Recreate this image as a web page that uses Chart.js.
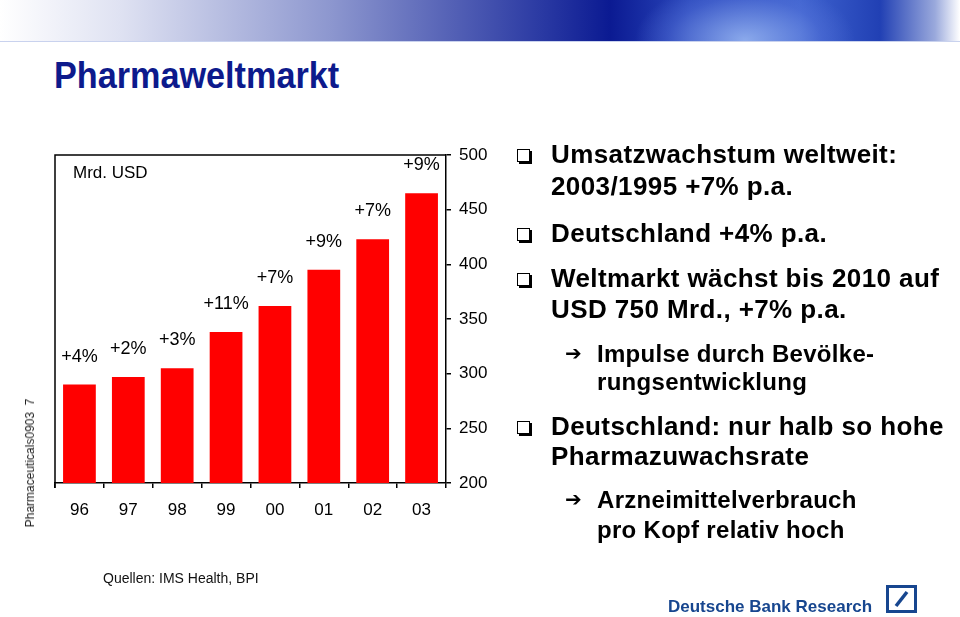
<!DOCTYPE html>
<html>
<head>
<meta charset="utf-8">
<script src="https://cdn.jsdelivr.net/npm/chart.js@4.4.1/dist/chart.umd.min.js"></script>
<style>
  html, body { margin: 0; padding: 0; background: #fff; }
  body { width: 960px; height: 617px; position: relative; overflow: hidden;
         font-family: "Liberation Sans", Arial, Helvetica, sans-serif; }
  #banner { position: absolute; left: 0; top: 0; width: 960px; height: 41px;
    background:
      radial-gradient(ellipse 110px 60px at 745px 40px, rgba(160,190,245,0.8), rgba(90,120,220,0.4) 70%, rgba(0,0,0,0) 100%),
      linear-gradient(to right, #ffffff 0px, #dfe2f2 120px, #8d97cf 330px, #2b3aa3 540px, #0b1a92 610px, #2a47bb 690px, #3f63cf 800px, #2140b4 880px, #9aa9dc 935px, #ffffff 960px);
    border-bottom: 1px solid #c9d2ee; }
  #title { position: absolute; left: 54px; top: 56px; font-size: 36px; font-weight: bold;
           color: #0d1a8c; transform: scaleX(0.95); transform-origin: left top; line-height: 40px; }
  #chart { position: absolute; left: 0; top: 0; }
  .t { position: absolute; font-weight: bold; color: #000; white-space: nowrap; }
  .big { font-size: 26px; line-height: 26px; left: 551px; letter-spacing: 0.4px; }
  .sub { font-size: 24px; line-height: 24px; left: 597px; letter-spacing: 0.3px; }
  .box { position: absolute; left: 517px; width: 11px; height: 11px; border: 1.5px solid #000;
         box-shadow: 2px 2px 0 #000; background: #fff; }
  .arr { position: absolute; left: 565px; font-family: "DejaVu Sans", sans-serif; font-size: 20px;
         font-weight: bold; line-height: 22px; }
  #side { position: absolute; left: 30px; top: 463px; font-size: 12px; line-height: 14px; white-space: nowrap;
          transform: translate(-50%, -50%) rotate(-90deg); color: #222; }
  #src { position: absolute; left: 103px; top: 571px; font-size: 14px; line-height: 14px; color: #111; }
  #db { position: absolute; left: 668px; top: 598px; font-size: 17px; line-height: 17px; font-weight: bold; color: #17468f; }
  #logo { position: absolute; left: 886px; top: 585px; }
</style>
</head>
<body>
<div id="banner"></div>
<div id="title">Pharmaweltmarkt</div>
<canvas id="chart" width="960" height="617"></canvas>

<div class="box" style="top:149px"></div>
<div class="t big" style="top:141px">Umsatzwachstum weltweit:</div>
<div class="t big" style="top:173px">2003/1995 +7% p.a.</div>
<div class="box" style="top:228px"></div>
<div class="t big" style="top:220px">Deutschland +4% p.a.</div>
<div class="box" style="top:273px"></div>
<div class="t big" style="top:265px">Weltmarkt wächst bis 2010 auf</div>
<div class="t big" style="top:296px">USD 750 Mrd., +7% p.a.</div>
<div class="arr" style="top:342px">➔</div>
<div class="t sub" style="top:342px">Impulse durch Bevölke-</div>
<div class="t sub" style="top:370px">rungsentwicklung</div>
<div class="box" style="top:421px"></div>
<div class="t big" style="top:413px">Deutschland: nur halb so hohe</div>
<div class="t big" style="top:443px">Pharmazuwachsrate</div>
<div class="arr" style="top:488px">➔</div>
<div class="t sub" style="top:488px">Arzneimittelverbrauch</div>
<div class="t sub" style="top:518px">pro Kopf relativ hoch</div>

<div id="side">Pharmaceuticals0903&nbsp; 7</div>
<div id="src">Quellen: IMS Health, BPI</div>
<div id="db">Deutsche Bank Research</div>
<svg id="logo" width="31" height="28" viewBox="0 0 31 28">
  <rect x="1.5" y="1.5" width="28" height="25" fill="none" stroke="#17468f" stroke-width="3"/>
  <line x1="10" y1="21" x2="21" y2="7" stroke="#17468f" stroke-width="3.5"/>
</svg>

<script>
// Weltmarkt Pharma, Mrd. USD
const jahre = ['96', '97', '98', '99', '00', '01', '02', '03'];
const umsatz = [290, 297, 305, 338, 362, 395, 423, 465];
const wachstum = ['+4%', '+2%', '+3%', '+11%', '+7%', '+9%', '+7%', '+9%'];
const yTicks = [200, 250, 300, 350, 400, 450, 500];

const fontName = '"Liberation Sans", Arial, Helvetica, sans-serif';

// Rahmen oben/links und Beschriftungen über den Balken
const extras = {
  id: 'extras',
  afterDatasetsDraw(chart) {
    const ctx = chart.ctx;
    const a = chart.chartArea;
    ctx.save();
    ctx.strokeStyle = '#000';
    ctx.lineWidth = 1.5;
    ctx.beginPath();
    ctx.moveTo(a.left, a.bottom + 5);
    ctx.lineTo(a.left, a.top);
    ctx.lineTo(a.right, a.top);
    ctx.stroke();

    ctx.font = '18px ' + fontName;
    ctx.fillStyle = '#000';
    ctx.textAlign = 'center';
    ctx.textBaseline = 'middle';
    chart.getDatasetMeta(0).data.forEach((bar, i) => {
      ctx.fillText(wachstum[i], bar.x, bar.y - 28);
    });

    ctx.font = '17px ' + fontName;
    ctx.textAlign = 'left';
    ctx.fillText('Mrd. USD', a.left + 18, a.top + 18);
    ctx.restore();
  }
};

new Chart(document.getElementById('chart').getContext('2d'), {
  type: 'bar',
  data: {
    labels: jahre,
    datasets: [{
      data: umsatz,
      backgroundColor: '#ff0000',
      borderWidth: 0,
      barPercentage: 0.67,
      categoryPercentage: 1.0
    }]
  },
  options: {
    responsive: false,
    animation: false,
    layout: { padding: { left: 55, top: 155, right: 464, bottom: 94 } },
    plugins: { legend: { display: false }, tooltip: { enabled: false } },
    scales: {
      x: {
        grid: { drawOnChartArea: false, drawTicks: true, tickLength: 5, color: '#000', lineWidth: 1.5, offset: true },
        border: { display: true, color: '#000', width: 1.5 },
        ticks: { color: '#000', font: { family: fontName, size: 17 }, padding: 12 },
        afterFit(scale) { scale.height = 40; }
      },
      y: {
        position: 'right',
        min: 200,
        max: 500,
        afterBuildTicks(scale) { scale.ticks = yTicks.map(v => ({ value: v })); },
        grid: { drawOnChartArea: false, drawTicks: true, tickLength: 5, color: '#000', lineWidth: 1.5 },
        border: { display: true, color: '#000', width: 1.5 },
        ticks: { color: '#000', font: { family: fontName, size: 17 }, padding: 8 },
        afterFit(scale) { scale.width = 50; }
      }
    }
  },
  plugins: [extras]
});
</script>
</body>
</html>
